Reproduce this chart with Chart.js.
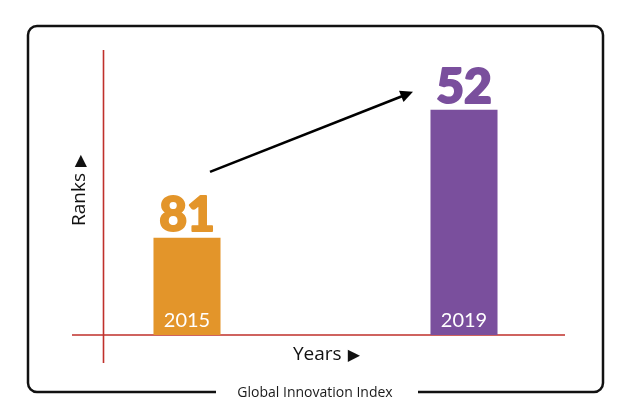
<!DOCTYPE html>
<html>
<head>
<meta charset="utf-8">
<script src="https://cdn.jsdelivr.net/npm/chart.js@4.4.1/dist/chart.umd.min.js"></script>
<style>
  html, body { margin: 0; padding: 0; background: #fff; }
  #chart { display: block; }
</style>
</head>
<body>
<canvas id="chart" width="624" height="416"></canvas>
<script>
// Data
var years = ['2015', '2019'];
var ranks = [81, 52];
var barColors = ['#E3952A', '#7A4F9D'];
var title = 'Global Innovation Index';
var xTitle = 'Years';
var yTitle = 'Ranks';

// rank axis is reversed (rank 1 at top), bars hang from the lowest rank shown
var rankTop = 38;
var rankFloor = 103;

var FONT = 'Lato, "Open Sans", sans-serif';
var LABEL_FONT = '"Open Sans", Lato, sans-serif';
var TRI_FONT = '16px "DejaVu Sans", sans-serif';
var AXIS_RED = '#C0302B';

// text followed by a small pointer triangle
function titleWithArrow(ctx, text, x, y) {
    ctx.font = '19px ' + LABEL_FONT;
    ctx.fillText(text, x, y);
    var w = ctx.measureText(text).width;
    ctx.font = TRI_FONT;
    ctx.fillText('\u25B6', x + w + 6, y - 0.5);
}

var decorations = {
    id: 'decorations',
    beforeDraw: function(chart) {
        var ctx = chart.ctx;
        var area = chart.chartArea;
        ctx.save();

        // frame with gap for the caption
        ctx.strokeStyle = '#111';
        ctx.lineWidth = 2.5;
        ctx.lineJoin = 'round';
        var fx = 28, fy = 26, fw = 575, fh = 366, r = 9;
        ctx.beginPath();
        ctx.moveTo(216, fy + fh);
        ctx.lineTo(fx + r, fy + fh);
        ctx.arcTo(fx, fy + fh, fx, fy + fh - r, r);
        ctx.lineTo(fx, fy + r);
        ctx.arcTo(fx, fy, fx + r, fy, r);
        ctx.lineTo(fx + fw - r, fy);
        ctx.arcTo(fx + fw, fy, fx + fw, fy + r, r);
        ctx.lineTo(fx + fw, fy + fh - r);
        ctx.arcTo(fx + fw, fy + fh, fx + fw - r, fy + fh, r);
        ctx.lineTo(418, fy + fh);
        ctx.stroke();

        ctx.fillStyle = '#1a1a1a';
        ctx.font = '14px ' + LABEL_FONT;
        ctx.textAlign = 'center';
        ctx.textBaseline = 'middle';
        ctx.fillText(title, 315, fy + fh + 1);

        // axes
        ctx.strokeStyle = AXIS_RED;
        ctx.lineWidth = 1.6;
        ctx.beginPath();
        ctx.moveTo(72, area.bottom);
        ctx.lineTo(565, area.bottom);
        ctx.moveTo(103.5, 50);
        ctx.lineTo(103.5, 363);
        ctx.stroke();

        // axis titles
        ctx.fillStyle = '#111';
        ctx.textAlign = 'left';
        ctx.textBaseline = 'alphabetic';
        titleWithArrow(ctx, xTitle, 293, 360);

        ctx.save();
        ctx.translate(85, 226);
        ctx.rotate(-Math.PI / 2);
        titleWithArrow(ctx, yTitle, 0, 0);
        ctx.restore();

        ctx.restore();
    },
    afterDatasetsDraw: function(chart) {
        var ctx = chart.ctx;
        var yScale = chart.scales.y;
        var bars = chart.getDatasetMeta(0).data;
        ctx.save();
        ctx.textAlign = 'center';
        ctx.textBaseline = 'alphabetic';
        ctx.lineJoin = 'round';
        bars.forEach(function(bar, i) {
            var top = yScale.getPixelForValue(ranks[i]);
            // big rank numbers, stroked a little to get the heavy look
            ctx.fillStyle = barColors[i];
            ctx.strokeStyle = barColors[i];
            ctx.lineWidth = 2;
            ctx.font = '900 48px ' + FONT;
            ctx.fillText(String(ranks[i]), bar.x, top - 7);
            ctx.strokeText(String(ranks[i]), bar.x, top - 7);
            ctx.fillStyle = '#fff';
            ctx.font = '20px ' + FONT;
            ctx.fillText(years[i], bar.x, chart.chartArea.bottom - 8);
        });

        // arrow from the 2015 bar to the 2019 bar
        var x0 = bars[0].x + 23, y0 = yScale.getPixelForValue(ranks[0]) - 66;
        var x1 = bars[1].x - 51, y1 = yScale.getPixelForValue(ranks[1]) - 18;
        var ang = Math.atan2(y1 - y0, x1 - x0);
        var head = 14;
        ctx.strokeStyle = '#000';
        ctx.fillStyle = '#000';
        ctx.lineWidth = 2.6;
        ctx.beginPath();
        ctx.moveTo(x0, y0);
        ctx.lineTo(x1 - head * 0.8 * Math.cos(ang), y1 - head * 0.8 * Math.sin(ang));
        ctx.stroke();
        ctx.beginPath();
        ctx.moveTo(x1, y1);
        ctx.lineTo(x1 - head * Math.cos(ang - 0.45), y1 - head * Math.sin(ang - 0.45));
        ctx.lineTo(x1 - head * Math.cos(ang + 0.45), y1 - head * Math.sin(ang + 0.45));
        ctx.closePath();
        ctx.fill();
        ctx.restore();
    }
};

new Chart(document.getElementById('chart'), {
    type: 'bar',
    data: {
        labels: years,
        datasets: [{
            data: ranks.map(function(r) { return [r, rankFloor]; }),
            backgroundColor: barColors,
            borderWidth: 0,
            barPercentage: 0.242,
            categoryPercentage: 1
        }]
    },
    options: {
        responsive: false,
        animation: false,
        devicePixelRatio: 1,
        layout: { padding: { left: 48.5, right: 21.5, top: 48, bottom: 81 } },
        plugins: { legend: { display: false }, tooltip: { enabled: false } },
        scales: {
            x: { display: false },
            y: { display: false, reverse: true, min: rankTop, max: rankFloor }
        }
    },
    plugins: [decorations]
});
</script>
</body>
</html>
